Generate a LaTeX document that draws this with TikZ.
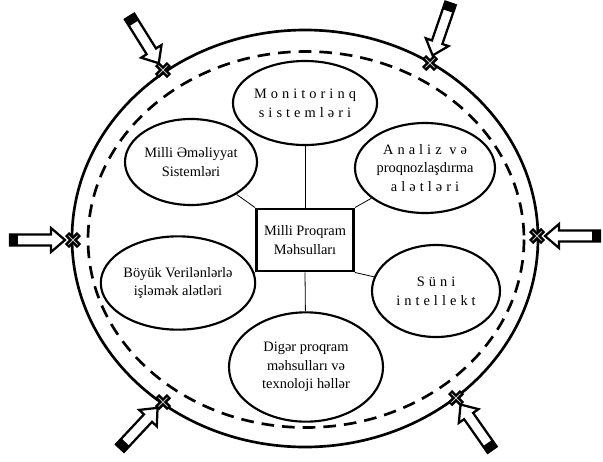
\documentclass[tikz,border=0pt]{standalone}
\usepackage{fontspec}
\setmainfont{Liberation Serif}
\newfontfamily\spacedfont[LetterSpace=28]{Liberation Serif}
\usetikzlibrary{shapes.geometric}

\newcommand{\inarrow}[2]{%
  \begin{scope}[shift={(#1)},rotate=#2]
    \draw[line width=1.7pt, fill=white] (-8,0) -- (-22,12) -- (-22,5.5) -- (-63,5.5)
      -- (-63,-5.5) -- (-22,-5.5) -- (-22,-12) -- cycle;
    \fill (-64,-6) rectangle (-55,6);
  \end{scope}}

\begin{document}
\begin{tikzpicture}[x=0.75pt,y=-0.75pt,
  every node/.style={font=\fontsize{10.8}{14}\selectfont, align=center},
  bubble/.style={draw, ellipse, line width=1.6pt, inner sep=0pt},
  link/.style={line width=0.6pt}]
\useasboundingbox (0,0) rectangle (603,461);

\draw[line width=2pt] (305,238.5) ellipse [x radius=233, y radius=208.5];
\draw[line width=2pt, dash pattern=on 9.5pt off 6pt] (306,239.5) ellipse [x radius=218, y radius=188];

\node[draw, line width=2.2pt, minimum width=72.75pt, minimum height=46.5pt] (box) at (305,240) {Milli Proqram\\Məhsulları};
\node[bubble, minimum width=96pt, minimum height=63pt] (mon) at (305,103) {{\spacedfont Monitorinq}\\{\spacedfont sistemləri}};
\node[bubble, minimum width=99pt, minimum height=64.5pt] (ops) at (191,162) {Milli Əməliyyat\\Sistemləri};
\node[bubble, minimum width=105pt, minimum height=67.5pt] (anl) at (425,168) {{\spacedfont Analiz və}\\proqnozlaşdırma\\{\spacedfont alətləri}};
\node[bubble, minimum width=102pt, minimum height=70pt] (big) at (178,283) {Böyük Verilənlərlə\\işləmək alətləri};
\node[bubble, minimum width=96pt, minimum height=69pt] (ai) at (436,291) {{\spacedfont Süni}\\{\spacedfont intellekt}};
\node[bubble, minimum width=115.5pt, minimum height=82pt] (oth) at (306,367) {Digər proqram\\məhsulları və\\texnoloji həllər};

\draw[link] (box.north) -- (mon);
\draw[link] (box.north west) -- (ops);
\draw[link] (box.north east) -- (anl);
\draw[link] (box.south west) -- (big);
\draw[link] (box.south east) -- (ai);
\draw[link] (box.south) -- (oth);

\coordinate (c1) at (163,70);
\coordinate (c2) at (430,63);
\coordinate (c3) at (73,240);
\coordinate (c4) at (537,236);
\coordinate (c5) at (163,402);
\coordinate (c6) at (456,398);

\foreach \i in {1,...,6}{
  \draw[line width=4.5pt] (c\i) +(-6,-6) -- +(6,6) +(-6,6) -- +(6,-6);
  \draw[line width=0.7pt, gray!50] (c\i) +(-4.5,-4.5) -- +(4.5,4.5) +(-4.5,4.5) -- +(4.5,-4.5);
}

\inarrow{c1}{-58}
\inarrow{c2}{-109}
\inarrow{c3}{0}
\inarrow{c4}{180}
\inarrow{c5}{47}
\inarrow{c6}{125}
\end{tikzpicture}
\end{document}
